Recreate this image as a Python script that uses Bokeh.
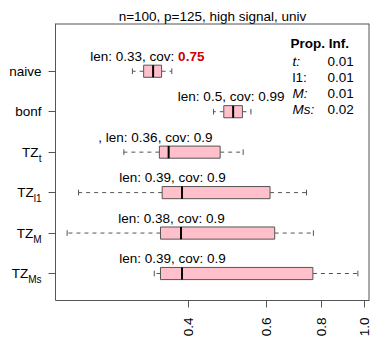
import math
from bokeh.plotting import figure
from bokeh.layouts import row
from bokeh.models import (ColumnDataSource, FixedTicker, CustomJSTickFormatter,
                          Label, Range1d, Span)
from bokeh.embed import file_html
from bokeh.resources import INLINE
from bokeh.core.properties import value

# ---------------- data ----------------
methods = ["naive", "bonf", "TZ_t", "TZ_l1", "TZ_M", "TZ_Ms"]
label_main = ["naive", "bonf", "TZ", "TZ", "TZ", "TZ"]
label_sub = ["", "", "t", "l1", "M", "Ms"]
whisker_low = [0.298, 0.455, 0.285, 0.225, 0.212, 0.334]
box_q1 = [0.316, 0.480, 0.343, 0.348, 0.345, 0.345]
box_median = [0.332, 0.504, 0.360, 0.386, 0.384, 0.386]
box_q3 = [0.347, 0.529, 0.471, 0.611, 0.626, 0.764]
whisker_high = [0.366, 0.553, 0.531, 0.739, 0.766, 0.966]
len_text = ["len: 0.33, cov: ", "len: 0.5, cov: ", ", len: 0.36, cov: ",
            "len: 0.39, cov: ", "len: 0.38, cov: ", "len: 0.39, cov: "]
cov_text = ["0.75", "0.99", "0.9", "0.9", "0.9", "0.9"]
cov_flag = [True, False, False, False, False, False]
legend_title = "Prop. Inf."
legend_names = ["t:", "l1:", "M:", "Ms:"]
legend_italic = [True, False, True, True]
legend_values = ["0.01", "0.01", "0.01", "0.02"]
x_ticks = [0.4, 0.6, 0.8, 1.0]
title_text = "n=100, p=125, high signal, univ"

# ---------------- style ----------------
FONT = "Liberation Sans"
FS = "13.5px"
SUB_FS = "10px"
GRAY = "#555555"
sub_width = {"": 0, "t": 3, "l1": 7.8, "M": 8.3, "Ms": 13.3}
W_LEFT = 44
TOP, BOTTOM = 23, 47

n = len(methods)
pos = [n - i for i in range(n)]

lo, hi = min(whisker_low), max(whisker_high)
llo, lhi = math.log(lo), math.log(hi)
ext = 0.04 * (lhi - llo)
x_lo, x_hi = math.exp(llo - ext), math.exp(lhi + ext)
y_range = Range1d(0.333, 7.18)

src = ColumnDataSource(dict(
    pos=pos, wl=whisker_low, q1=box_q1, med=box_median, q3=box_q3, wh=whisker_high,
    ytop=[y + 0.15 for y in pos], ybot=[y - 0.15 for y in pos],
    stop=[y + 0.07 for y in pos], sbot=[y - 0.07 for y in pos],
    prefix=len_text, cov=cov_text,
))

# ---------------- left label panel ----------------
pl = figure(width=W_LEFT, height=347, x_range=Range1d(0, 1), y_range=y_range,
            x_axis_location=None, y_axis_location=None,
            output_backend="svg", toolbar_location=None,
            min_border_left=0, min_border_right=0, min_border_top=TOP,
            min_border_bottom=BOTTOM)
pl.title.visible = False
pl.xgrid.visible = False
pl.ygrid.visible = False
pl.outline_line_color = None
main_src = ColumnDataSource(dict(
    x=[1.0] * n, y=pos, t=label_main,
    off=[-3 - sub_width[s] for s in label_sub]))
pl.text(x="x", y="y", text="t", x_offset="off", source=main_src,
        text_align="right", text_baseline="middle",
        text_font=value(FONT), text_font_size=FS, text_color="black")
sub_idx = [i for i in range(n) if label_sub[i]]
sub_src = ColumnDataSource(dict(
    x=[1.0] * len(sub_idx), y=[pos[i] for i in sub_idx],
    t=[label_sub[i] for i in sub_idx]))
pl.text(x="x", y="y", text="t", source=sub_src, x_offset=-3, y_offset=6,
        text_align="right", text_baseline="middle",
        text_font=value(FONT), text_font_size=SUB_FS, text_color="black")

# ---------------- main plot ----------------
p = figure(width=388 - W_LEFT, height=347, x_axis_type="log",
           x_range=Range1d(x_lo, x_hi), y_range=y_range,
           output_backend="svg", toolbar_location=None,
           min_border_left=55 - W_LEFT, min_border_right=19, min_border_top=TOP,
           min_border_bottom=BOTTOM)
p.title.text = title_text
p.title.align = "center"
p.title.offset = 5
p.title.standoff = 0
p.title.text_font = FONT
p.title.text_font_size = FS
p.title.text_font_style = "normal"
p.title.text_color = "black"
p.xgrid.visible = False
p.ygrid.visible = False
p.outline_line_color = None

# frame border (top and right; bottom/left come from axis lines)
p.add_layout(Span(location=y_range.end, dimension="width", line_color=GRAY, line_width=2))
p.add_layout(Span(location=x_hi, dimension="height", line_color=GRAY, line_width=2))

# whiskers
p.segment(x0="q1", x1="wl", y0="pos", y1="pos", source=src,
          line_color=GRAY, line_dash="4 4", line_width=1)
p.segment(x0="q3", x1="wh", y0="pos", y1="pos", source=src,
          line_color=GRAY, line_dash="4 4", line_width=1)
# staples
p.segment(x0="wl", x1="wl", y0="sbot", y1="stop", source=src, line_color=GRAY)
p.segment(x0="wh", x1="wh", y0="sbot", y1="stop", source=src, line_color=GRAY)
# boxes
p.hbar(y="pos", left="q1", right="q3", height=0.3, source=src,
       fill_color="pink", line_color=GRAY, line_width=1)
# medians
p.segment(x0="med", x1="med", y0="ybot", y1="ytop", source=src,
          line_color="black", line_width=2)

# annotations above boxes
p.text(x="med", y="pos", text="prefix", source=src, text_align="right",
       text_baseline="middle", x_offset=25, y_offset=-15,
       text_font=value(FONT), text_font_size=FS, text_color="black")
idx_b = [i for i in range(n) if cov_flag[i]]
idx_n = [i for i in range(n) if not cov_flag[i]]
src_b = ColumnDataSource(dict(x=[box_median[i] for i in idx_b], y=[pos[i] for i in idx_b],
                              t=[cov_text[i] for i in idx_b]))
src_n = ColumnDataSource(dict(x=[box_median[i] for i in idx_n], y=[pos[i] for i in idx_n],
                              t=[cov_text[i] for i in idx_n]))
p.text(x="x", y="y", text="t", source=src_n, text_align="left", text_baseline="middle",
       x_offset=25, y_offset=-15, text_font=value(FONT), text_font_size=FS,
       text_color="black")
p.text(x="x", y="y", text="t", source=src_b, text_align="left", text_baseline="middle",
       x_offset=25, y_offset=-15, text_font=value(FONT), text_font_size=FS,
       text_color="#CC0000", text_font_style="bold")

# axes
p.xaxis.ticker = FixedTicker(ticks=x_ticks)
p.xaxis.formatter = CustomJSTickFormatter(code="return tick.toFixed(1);")
p.xaxis.major_label_orientation = math.pi / 2
p.xaxis.major_label_text_font = FONT
p.xaxis.major_label_text_font_size = FS
p.xaxis.major_label_text_color = "black"
p.xaxis.major_label_standoff = 10
p.xaxis.major_tick_out = 7
p.xaxis.major_tick_in = 0
p.xaxis.minor_tick_line_color = None
p.xaxis.axis_line_color = GRAY
p.xaxis.major_tick_line_color = GRAY

p.yaxis.ticker = FixedTicker(ticks=pos)
p.yaxis.formatter = CustomJSTickFormatter(code="return '';")
p.yaxis.major_label_standoff = 0
p.yaxis.major_tick_out = 7
p.yaxis.major_tick_in = 0
p.yaxis.minor_tick_line_color = None
p.yaxis.axis_line_color = GRAY
p.yaxis.major_tick_line_color = GRAY

# legend block (inside the frame, top right)
p.add_layout(Label(x=x_hi, y=y_range.end, text=legend_title, x_offset=-79, y_offset=-20,
                   text_align="left", text_baseline="middle", text_font=FONT,
                   text_font_size=FS, text_font_style="bold", text_color="black"))
for j in range(len(legend_names)):
    p.add_layout(Label(x=x_hi, y=y_range.end, text=legend_names[j], x_offset=-77,
                       y_offset=-38 - 16 * j, text_align="left", text_baseline="middle",
                       text_font=FONT, text_font_size=FS,
                       text_font_style="italic" if legend_italic[j] else "normal",
                       text_color="black"))
    p.add_layout(Label(x=x_hi, y=y_range.end, text=legend_values[j], x_offset=-42,
                       y_offset=-38 - 16 * j, text_align="left", text_baseline="middle",
                       text_font=FONT, text_font_size=FS, text_color="black"))

layout = row(pl, p, spacing=0)
open("out.html", "w").write(file_html(layout, INLINE))
